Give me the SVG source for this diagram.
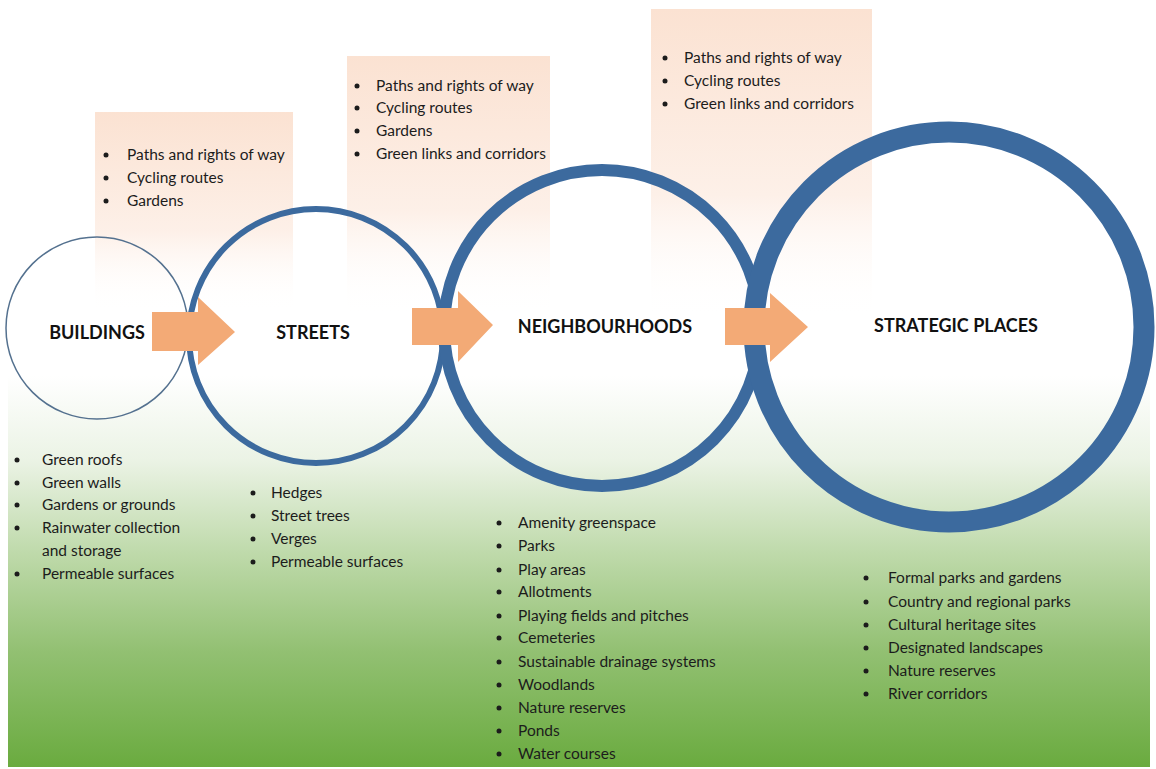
<svg xmlns="http://www.w3.org/2000/svg" width="1156" height="769" viewBox="0 0 1156 769">
<defs>
<linearGradient id="bg" gradientUnits="userSpaceOnUse" x1="0" y1="0" x2="0" y2="767">
<stop offset="0" stop-color="#ffffff"/>
<stop offset="0.49" stop-color="#ffffff"/>
<stop offset="0.6" stop-color="#ebf3e5"/>
<stop offset="0.72" stop-color="#bfdaab"/>
<stop offset="0.85" stop-color="#92c072"/>
<stop offset="1" stop-color="#6aab3f"/>
</linearGradient>
<linearGradient id="peach" x1="0" y1="0" x2="0" y2="1">
<stop offset="0" stop-color="#fbe2d2"/>
<stop offset="0.6" stop-color="#fdf0e8"/>
<stop offset="1" stop-color="#ffffff" stop-opacity="0"/>
</linearGradient>
<style>
.t{font-family:Lato,"Open Sans","Liberation Sans",sans-serif;font-size:15.5px;fill:#1c1c1c}
.h{font-family:Lato,"Open Sans","Liberation Sans",sans-serif;font-size:18px;font-weight:bold;fill:#111;text-anchor:middle}
.ring{fill:none;stroke:#3c6a9e}
.arrow{fill:#f3aa76}
.b{fill:#1c1c1c}
</style>
</defs>
<rect x="8" y="0" width="1142" height="767" fill="url(#bg)"/>

<g id="box-streets-top">
<rect x="95" y="112" width="198" height="200" fill="url(#peach)"/>
</g>
<g id="box-neigh-top">
<rect x="347" y="56" width="203" height="260" fill="url(#peach)"/>
</g>
<g id="box-strategic-top">
<rect x="651" y="9" width="221" height="310" fill="url(#peach)"/>
</g>

<g id="node-buildings">
<circle cx="97" cy="328" r="91" fill="none" stroke="#54718f" stroke-width="1.5"/>
<text class="h" x="97" y="339">BUILDINGS</text>
</g>
<g id="node-streets">
<circle class="ring" cx="316" cy="336" r="127" stroke-width="6"/>
<text class="h" x="313" y="339">STREETS</text>
</g>
<g id="node-neighbourhoods">
<circle class="ring" cx="602" cy="328" r="158" stroke-width="12"/>
<text class="h" x="605" y="333">NEIGHBOURHOODS</text>
</g>
<g id="node-strategic">
<circle class="ring" cx="949" cy="327" r="195" stroke-width="21"/>
<text class="h" x="956" y="332">STRATEGIC PLACES</text>
</g>

<g id="connectors">
<polygon class="arrow" points="152,312 198,312 198,297 235,332 198,365 198,351 152,351"/>
<polygon class="arrow" points="412,308 458,308 458,291 493,325 458,362 458,345 412,345"/>
<polygon class="arrow" points="725,308 770,308 770,293 808,327 770,362 770,345 725,345"/>
</g>

<g id="list-streets-top">
<circle class="b" cx="106" cy="155" r="2.5"/><text class="t" x="127" y="160">Paths and rights of way</text>
<circle class="b" cx="106" cy="178" r="2.5"/><text class="t" x="127" y="183">Cycling routes</text>
<circle class="b" cx="106" cy="201" r="2.5"/><text class="t" x="127" y="206">Gardens</text>
</g>
<g id="list-neigh-top">
<circle class="b" cx="357" cy="86" r="2.5"/><text class="t" x="376" y="91">Paths and rights of way</text>
<circle class="b" cx="357" cy="108" r="2.5"/><text class="t" x="376" y="113">Cycling routes</text>
<circle class="b" cx="357" cy="131" r="2.5"/><text class="t" x="376" y="136">Gardens</text>
<circle class="b" cx="357" cy="154" r="2.5"/><text class="t" x="376" y="159">Green links and corridors</text>
</g>
<g id="list-strategic-top">
<circle class="b" cx="665" cy="58" r="2.5"/><text class="t" x="684" y="63">Paths and rights of way</text>
<circle class="b" cx="665" cy="81" r="2.5"/><text class="t" x="684" y="86">Cycling routes</text>
<circle class="b" cx="665" cy="104" r="2.5"/><text class="t" x="684" y="109">Green links and corridors</text>
</g>

<g id="list-buildings">
<circle class="b" cx="17" cy="460" r="2.5"/><text class="t" x="42" y="465">Green roofs</text>
<circle class="b" cx="17" cy="483" r="2.5"/><text class="t" x="42" y="488">Green walls</text>
<circle class="b" cx="17" cy="505" r="2.5"/><text class="t" x="42" y="510">Gardens or grounds</text>
<circle class="b" cx="17" cy="528" r="2.5"/><text class="t" x="42" y="533">Rainwater collection</text>
<text class="t" x="42" y="556">and storage</text>
<circle class="b" cx="17" cy="574" r="2.5"/><text class="t" x="42" y="579">Permeable surfaces</text>
</g>
<g id="list-streets">
<circle class="b" cx="253" cy="493" r="2.5"/><text class="t" x="271" y="498">Hedges</text>
<circle class="b" cx="253" cy="516" r="2.5"/><text class="t" x="271" y="521">Street trees</text>
<circle class="b" cx="253" cy="539" r="2.5"/><text class="t" x="271" y="544">Verges</text>
<circle class="b" cx="253" cy="562" r="2.5"/><text class="t" x="271" y="567">Permeable surfaces</text>
</g>
<g id="list-neighbourhoods">
<circle class="b" cx="499" cy="523" r="2.5"/><text class="t" x="518" y="528">Amenity greenspace</text>
<circle class="b" cx="499" cy="546" r="2.5"/><text class="t" x="518" y="551">Parks</text>
<circle class="b" cx="499" cy="570" r="2.5"/><text class="t" x="518" y="575">Play areas</text>
<circle class="b" cx="499" cy="592" r="2.5"/><text class="t" x="518" y="597">Allotments</text>
<circle class="b" cx="499" cy="616" r="2.5"/><text class="t" x="518" y="621">Playing fields and pitches</text>
<circle class="b" cx="499" cy="638" r="2.5"/><text class="t" x="518" y="643">Cemeteries</text>
<circle class="b" cx="499" cy="662" r="2.5"/><text class="t" x="518" y="667">Sustainable drainage systems</text>
<circle class="b" cx="499" cy="685" r="2.5"/><text class="t" x="518" y="690">Woodlands</text>
<circle class="b" cx="499" cy="708" r="2.5"/><text class="t" x="518" y="713">Nature reserves</text>
<circle class="b" cx="499" cy="731" r="2.5"/><text class="t" x="518" y="736">Ponds</text>
<circle class="b" cx="499" cy="754" r="2.5"/><text class="t" x="518" y="759">Water courses</text>
</g>
<g id="list-strategic">
<circle class="b" cx="866" cy="578" r="2.5"/><text class="t" x="888" y="583">Formal parks and gardens</text>
<circle class="b" cx="866" cy="602" r="2.5"/><text class="t" x="888" y="607">Country and regional parks</text>
<circle class="b" cx="866" cy="625" r="2.5"/><text class="t" x="888" y="630">Cultural heritage sites</text>
<circle class="b" cx="866" cy="648" r="2.5"/><text class="t" x="888" y="653">Designated landscapes</text>
<circle class="b" cx="866" cy="671" r="2.5"/><text class="t" x="888" y="676">Nature reserves</text>
<circle class="b" cx="866" cy="694" r="2.5"/><text class="t" x="888" y="699">River corridors</text>
</g>
</svg>
